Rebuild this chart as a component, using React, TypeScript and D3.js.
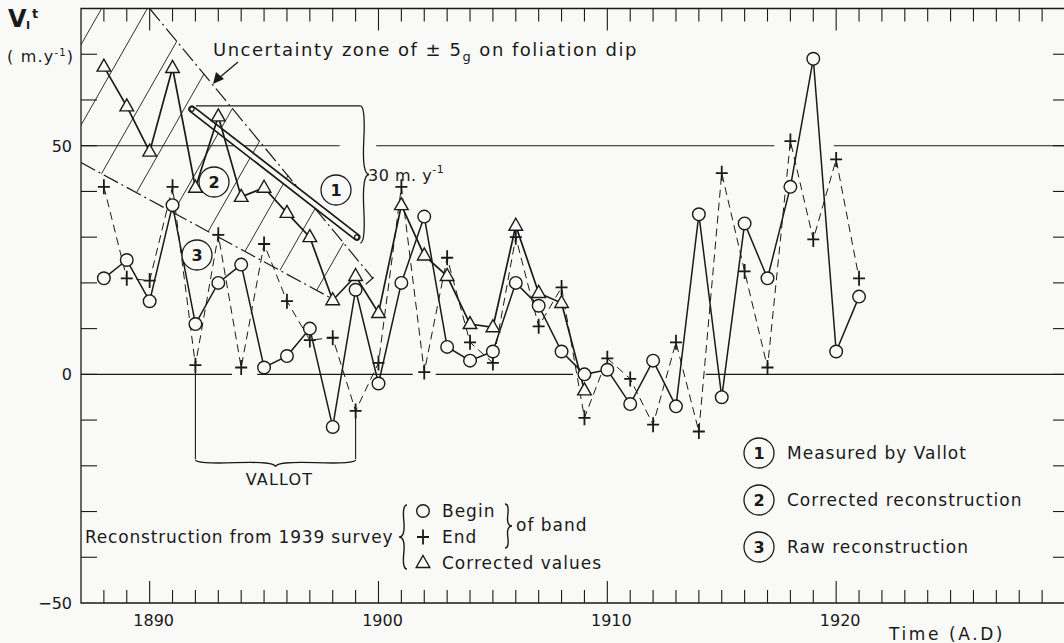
import * as React from 'react'
import * as d3 from 'd3'

// years of the bands (one point per year)
const years = [1888, 1889, 1890, 1891, 1892, 1893, 1894, 1895, 1896, 1897, 1898, 1899, 1900, 1901, 1902, 1903, 1904,
  1905, 1906, 1907, 1908, 1909, 1910, 1911, 1912, 1913, 1914, 1915, 1916, 1917, 1918, 1919, 1920, 1921]

// circles - begin of band (solid line)
const beginValues = [21, 25, 16, 37, 11, 20, 24, 1.5, 4, 10, -11.5, 18.5, -2, 20, 34.5, 6, 3,
  5, 20, 15, 5, 0, 1, -6.5, 3, -7, 35, -5, 33, 21, 41, 69, 5, 17]

// crosses - end of band (dashed line)
const endValues = [41, 21, 20.5, 41, 2, 30.5, 1.5, 28.5, 16, 7.5, 8, -8, 2.5, 41, 0.5, 25.5, 7,
  2.5, 30, 10.5, 19, -9.5, 3.5, -1, -11, 7, -12.5, 44, 22.5, 1.5, 51, 29.5, 47, 21]

// triangles - corrected values, 1888-1909
const correctedYears = years.slice(0, 22)
const correctedValues = [67.3, 58.6, 48.7, 67, 40.8, 56.4, 38.8, 40.8, 35.3, 30, 16.2, 21.5, 13.4, 37, 26, 21.5, 11,
  10.3, 32.5, 17.8, 15.6, -3.5]

// measured by Vallot (start, end)
const vallotLine: [number, number][] = [[1891.85, 58], [1899.05, 30]]

// uncertainty zone (+-5g) edges
const zoneUpper: [number, number][] = [[1890, 80], [1899.75, 21]]
const zoneLower: [number, number][] = [[1887, 46.3], [1898.1, 16.2]]
const zonePolygon: [number, number][] = [[1887, 98.5], [1899.75, 21], [1898.1, 16.2], [1887, 46.3]]
const hatchTopYears = [1887.9, 1889.9, 1892.0, 1894.0, 1896.1, 1898.1, 1900.2, 1902.2, 1904.3]
const hatchSlope = 8.8

const xTickLabels = [1890, 1900, 1910, 1920]
const yTickLabels = [50, 0, -50]
const zeroLineSegs: [number, number][] = [[1887, 1893.6], [1894.7, 1901.5], [1902.5, 1908.5], [1914.3, 1930]]
const fiftyLineSegs: [number, number][] = [[1887, 1898.3], [1899.9, 1917.3], [1919.9, 1930]]

const W = 1064
const H = 643
const BG = '#f9f9f7'
const INK = '#1a1a1a'

const x = d3.scaleLinear().domain([1887, 1930]).range([81, 1065])
const y = d3.scaleLinear().domain([-50, 80]).range([603, 8.5])

function brace(x1: number, y1: number, x2: number, y2: number, w: number, q = 0.6) {
  let dx = x1 - x2
  let dy = y1 - y2
  const len = Math.sqrt(dx * dx + dy * dy)
  dx /= len
  dy /= len
  const qx1 = x1 + q * w * dy, qy1 = y1 - q * w * dx
  const qx2 = x1 - 0.25 * len * dx + (1 - q) * w * dy, qy2 = y1 - 0.25 * len * dy - (1 - q) * w * dx
  const tx1 = x1 - 0.5 * len * dx + w * dy, ty1 = y1 - 0.5 * len * dy - w * dx
  const qx3 = x2 + q * w * dy, qy3 = y2 - q * w * dx
  const qx4 = x1 - 0.75 * len * dx + (1 - q) * w * dy, qy4 = y1 - 0.75 * len * dy - (1 - q) * w * dx
  return `M${x1},${y1}Q${qx1},${qy1} ${qx2},${qy2}T${tx1},${ty1}M${x2},${y2}Q${qx3},${qy3} ${qx4},${qy4}T${tx1},${ty1}`
}

const Circle = ({cx, cy}: {cx: number, cy: number}) =>
  <circle cx={cx} cy={cy} r={6.3} fill={BG} stroke={INK} strokeWidth={1.4} />
const Tri = ({cx, cy}: {cx: number, cy: number}) =>
  <path d={`M${cx},${cy - 7.5}L${cx + 6.8},${cy + 4.5}L${cx - 6.8},${cy + 4.5}Z`} fill={BG} stroke={INK} strokeWidth={1.4} />
const Plus = ({cx, cy}: {cx: number, cy: number}) =>
  <path d={`M${cx - 6},${cy}H${cx + 6}M${cx},${cy - 7.5}V${cy + 7.5}`} stroke={INK} strokeWidth={1.8} />
const Num = ({cx, cy, n}: {cx: number, cy: number, n: string}) => (
  <g>
    <circle cx={cx} cy={cy} r={15} fill={BG} stroke={INK} strokeWidth={1.3} />
    <text x={cx} y={cy + 6} textAnchor="middle" fontSize={16} fontWeight="bold">{n}</text>
  </g>
)

export default function App() {
  const line = d3.line<[number, number]>().x(d => x(d[0])).y(d => y(d[1]))
  const beginPts = years.map((yr, i) => [yr, beginValues[i]] as [number, number])
  const endPts = years.map((yr, i) => [yr, endValues[i]] as [number, number])
  const corrPts = correctedYears.map((yr, i) => [yr, correctedValues[i]] as [number, number])

  const minorTicks = d3.range(1888, 1930)
  const yTicks = d3.range(-40, 80, 10)

  const [v0, v1] = vallotLine
  const hatches = hatchTopYears.map(t => [[t, 80], [t - 130 / hatchSlope, -50]] as [number, number][])

  // annotation geometry, from data positions
  const vLeft = x(1892), vRight = x(1899)
  const braceTop = y(58.7), braceBot = y(28.7), braceX = x(1899.2)
  const upEnd = [x(zoneUpper[1][0]), y(zoneUpper[1][1])]

  return (
    <svg width={W} height={H} style={{position: 'absolute', left: 0, top: 0}} fontFamily="'DejaVu Sans', sans-serif" fill={INK}>
      <rect x={0} y={0} width={W} height={H} fill={BG} />
      <defs>
        <clipPath id="plot"><rect x={x(1887)} y={y(80)} width={x(1930) - x(1887)} height={y(-50) - y(80)} /></clipPath>
        <clipPath id="zone"><path d={line(zonePolygon) + 'Z'} /></clipPath>
      </defs>

      {/* frame */}
      <path d={`M${x(1930)},${y(80)}H${x(1887)}V${y(-50)}H${x(1930)}`} fill="none" stroke={INK} strokeWidth={1.3} />
      {minorTicks.map(t => {
        const major = t % 10 === 0
        return (
          <g key={t}>
            <line x1={x(t)} x2={x(t)} y1={y(80)} y2={y(80) + (major ? 22 : 13)} stroke={INK} strokeWidth={1.1} />
            <line x1={x(t)} x2={x(t)} y1={y(-50)} y2={y(-50) - (major ? 22 : 13)} stroke={INK} strokeWidth={1.1} />
          </g>
        )
      })}
      {yTicks.map(v => (
        <g key={v}>
          <line x1={x(1887)} x2={x(1887) + 16} y1={y(v)} y2={y(v)} stroke={INK} strokeWidth={1.1} />
          <line x1={W - 11} x2={W} y1={y(v)} y2={y(v)} stroke={INK} strokeWidth={1.1} />
        </g>
      ))}
      {zeroLineSegs.map((s, i) => <line key={'z' + i} x1={x(s[0])} x2={x(s[1])} y1={y(0)} y2={y(0)} stroke={INK} strokeWidth={1.1} />)}
      {fiftyLineSegs.map((s, i) => <line key={'f' + i} x1={x(s[0])} x2={x(s[1])} y1={y(50)} y2={y(50)} stroke={INK} strokeWidth={1.1} />)}

      {xTickLabels.map(t => <text key={t} x={x(t) + 4} y={626} textAnchor="middle" fontSize={16}>{t}</text>)}
      {yTickLabels.map(v => <text key={v} x={72} y={y(v) + 6} textAnchor="end" fontSize={16}>{v < 0 ? '\u2212' + Math.abs(v) : v}</text>)}

      <text x={8} y={27} fontSize={24} fontWeight="bold">V</text>
      <text x={26} y={29} fontSize={11} fontWeight="bold">I</text>
      <text x={32} y={18} fontSize={13} fontWeight="bold">t</text>
      <text x={7} y={62} fontSize={16} letterSpacing={1.2}>( m.y<tspan fontSize={10} dy={-6}>-1</tspan><tspan dy={6}>)</tspan></text>
      <text x={889} y={640} fontSize={17} letterSpacing={2.6}>Time (A.D)</text>

      {/* uncertainty zone */}
      <g clipPath="url(#plot)">
        <g clipPath="url(#zone)">
          {hatches.map((h, i) => <path key={i} d={line(h) || ''} fill="none" stroke={INK} strokeWidth={0.9} />)}
        </g>
        <path d={line(zoneUpper) || ''} fill="none" stroke={INK} strokeWidth={1.2} strokeDasharray="16,4,2,4" />
        <path d={line(zoneLower) || ''} fill="none" stroke={INK} strokeWidth={1.2} strokeDasharray="16,4,2,4" />
        <line x1={upEnd[0] - 7} y1={upEnd[1] + 6} x2={upEnd[0] + 1} y2={upEnd[1] - 1} stroke={INK} strokeWidth={1.2} />
      </g>
      <text x={213} y={56} fontSize={18} letterSpacing={1.5}>Uncertainty zone of  ± 5<tspan fontSize={13} dy={5}>g</tspan><tspan dy={-5}>  on foliation dip</tspan></text>
      <line x1={238} y1={62} x2={219} y2={78} stroke={INK} strokeWidth={1.3} />
      <path d="M213,84L216,72L224,79Z" fill={INK} />

      {/* Vallot bracket */}
      <line x1={x(v0[0]) + 4} x2={braceX} y1={braceTop} y2={braceTop} stroke={INK} strokeWidth={1.1} />
      <path d={brace(braceX, braceBot, braceX, braceTop, 9)} fill="none" stroke={INK} strokeWidth={1.3} />
      <text x={368} y={181} fontSize={16} letterSpacing={0.5}>30 m. y<tspan fontSize={11} dy={-8}>-1</tspan></text>
      <line x1={vLeft} x2={vLeft} y1={y(endValues[4])} y2={y(-18.5)} stroke={INK} strokeWidth={1.1} />
      <line x1={vRight} x2={vRight} y1={y(endValues[11])} y2={y(-18.5)} stroke={INK} strokeWidth={1.1} />
      <path d={brace(vLeft, y(-18.7), vRight, y(-18.7), 7)} fill="none" stroke={INK} strokeWidth={1.4} />
      <text x={(vLeft + vRight) / 2 + 4} y={485} textAnchor="middle" fontSize={16} letterSpacing={1.2}>VALLOT</text>

      {/* measured by Vallot */}
      <path d={line(vallotLine) || ''} stroke={INK} strokeWidth={7.5} strokeLinecap="round" fill="none" />
      <path d={line(vallotLine) || ''} stroke={BG} strokeWidth={4} strokeLinecap="round" fill="none" />
      <circle cx={x(v0[0])} cy={y(v0[1])} r={2.2} fill={BG} stroke={INK} strokeWidth={1.2} />
      <circle cx={x(v1[0])} cy={y(v1[1])} r={2.2} fill={BG} stroke={INK} strokeWidth={1.2} />

      {/* series */}
      <path d={line(endPts) || ''} fill="none" stroke={INK} strokeWidth={1} strokeDasharray="8,5" />
      <path d={line(beginPts) || ''} fill="none" stroke={INK} strokeWidth={1.5} />
      <path d={line(corrPts) || ''} fill="none" stroke={INK} strokeWidth={1.7} />
      {endPts.map((d, i) => <Plus key={'p' + i} cx={x(d[0])} cy={y(d[1])} />)}
      {beginPts.map((d, i) => <Circle key={'c' + i} cx={x(d[0])} cy={y(d[1])} />)}
      {corrPts.map((d, i) => <Tri key={'t' + i} cx={x(d[0])} cy={y(d[1])} />)}

      <Num cx={336} cy={190} n="1" />
      <Num cx={214} cy={182} n="2" />
      <Num cx={197} cy={255} n="3" />

      {/* legend right */}
      <Num cx={759} cy={453} n="1" />
      <Num cx={759} cy={500} n="2" />
      <Num cx={759} cy={547} n="3" />
      <text x={787} y={459} fontSize={17} letterSpacing={1}>Measured by Vallot</text>
      <text x={787} y={506} fontSize={17} letterSpacing={1}>Corrected reconstruction</text>
      <text x={787} y={553} fontSize={17} letterSpacing={1}>Raw reconstruction</text>

      {/* legend bottom-left */}
      <text x={85} y={543} fontSize={17} letterSpacing={0.8}>Reconstruction from 1939 survey</text>
      <path d={brace(407, 505, 407, 569, 8)} fill="none" stroke={INK} strokeWidth={1.4} />
      <Circle cx={423} cy={511} />
      <Plus cx={423} cy={537} />
      <Tri cx={423} cy={563} />
      <text x={442} y={517} fontSize={17} letterSpacing={1}>Begin</text>
      <text x={442} y={543} fontSize={17} letterSpacing={1}>End</text>
      <text x={442} y={569} fontSize={17} letterSpacing={1}>Corrected values</text>
      <path d={brace(505, 548, 505, 504, 7)} fill="none" stroke={INK} strokeWidth={1.4} />
      <text x={516} y={531} fontSize={17} letterSpacing={1}>of band</text>
    </svg>
  )
}
